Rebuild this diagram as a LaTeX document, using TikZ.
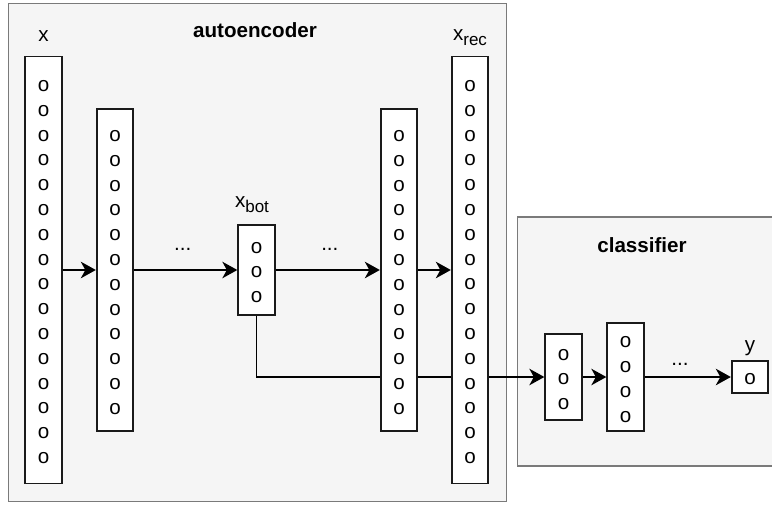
\documentclass[tikz,border=0pt]{standalone}
\usepackage{fontspec}
\setmainfont{Liberation Sans}
\usetikzlibrary{arrows.meta}
\pgfdeclarelayer{bgzero}
\pgfdeclarelayer{bgone}
\pgfsetlayers{bgzero,bgone,main}
\definecolor{cfill}{HTML}{F5F5F5}
\definecolor{cstroke}{HTML}{7A7A7A}
\definecolor{bstroke}{HTML}{1A1A1A}
\tikzset{
  container/.style={draw=cstroke, fill=cfill, line width=1.6pt},
  layer/.style={draw=bstroke, fill=white, line width=1.8pt, inner sep=0pt, minimum width=36.5pt},
  dots/.style={font=\fontsize{20.6}{24.8}\selectfont, align=center, inner sep=0pt, anchor=center},
  lbl/.style={font=\fontsize{20.6}{24.8}\selectfont, inner sep=0pt, anchor=base},
  title/.style={font=\fontsize{20.6}{24.8}\selectfont\bfseries, inner sep=0pt, anchor=base},
  arr/.style={draw=black, line width=1.8pt, -{Stealth[length=15pt,width=16.5pt,inset=4.5pt]}},
  conn/.style={draw=black, line width=1.8pt}
}
\newcommand{\subtxt}[1]{\raisebox{-5pt}{\fontsize{17}{17}\selectfont #1}}
\begin{document}
\begin{tikzpicture}[x=1pt,y=-1pt]
\useasboundingbox (0,0) rectangle (772,504);
\clip (0,0) rectangle (772,504);
% containers
\begin{pgfonlayer}{bgzero}
\path[container] (8.5,3.5) rectangle (506.5,501.5);
\path[container] (517.5,217) rectangle (790,466);
\end{pgfonlayer}
% layer boxes with neuron texts
\node[layer, minimum height=427pt] (xin) at (43.5,270) {};
\node[layer, minimum height=322pt] (h1) at (115,270) {};
\node[layer, minimum height=90pt] (xbot) at (256.5,270) {};
\node[layer, minimum height=322pt] (h2) at (399,270) {};
\node[layer, minimum height=427pt] (xrec) at (470,270) {};
\node[layer, minimum height=86pt] (c1) at (563.5,377) {};
\node[layer, minimum height=108pt] (c2) at (625.5,377) {};
\node[layer, minimum height=32pt] (yout) at (750,377) {};
\node[dots] (nxin) at (43.5,272) {o\\o\\o\\o\\o\\o\\o\\o\\o\\o\\o\\o\\o\\o\\o\\o};
\node[dots] (nh1) at (115,272.5) {o\\o\\o\\o\\o\\o\\o\\o\\o\\o\\o\\o};
\node[dots] (nxbot) at (256.5,272.5) {o\\o\\o};
\node[dots] (nh2) at (399,272.5) {o\\o\\o\\o\\o\\o\\o\\o\\o\\o\\o\\o};
\node[dots] (nxrec) at (470,272) {o\\o\\o\\o\\o\\o\\o\\o\\o\\o\\o\\o\\o\\o\\o\\o};
\node[dots] (nc1) at (563.5,379.5) {o\\o\\o};
\node[dots] (nc2) at (625.5,379.5) {o\\o\\o\\o};
\node[dots] (ny) at (750,379.5) {o};
% skip connection (behind boxes)
\begin{pgfonlayer}{bgone}
\path[arr] (xbot.south) |- (c1.west);
\end{pgfonlayer}
% arrows
\path[arr] (xin.east) -- (h1.west);
\path[arr] (h1.east) -- node[lbl, pos=0.47, yshift=20pt] (e1) {...} (xbot.west);
\path[arr] (xbot.east) -- node[lbl, pos=0.52, yshift=20pt] (e2) {...} (h2.west);
\path[arr] (h2.east) -- (xrec.west);
\path[arr] (c1.east) -- (c2.west);
\path[arr] (c2.east) -- node[lbl, pos=0.41, yshift=12pt] (e3) {...} (yout.west);
% labels
\node[lbl] (lx) at (43.5,41.5) {x};
\node[title] (lae) at (255,37.5) {autoencoder};
\node[lbl] (lbot) at (252,207) {x\subtxt{bot}};
\node[lbl] (lrec) at (470,40) {x\subtxt{rec}};
\node[title] (lcl) at (642,252) {classifier};
\node[lbl] (ly) at (750,351) {y};
\end{tikzpicture}
\end{document}
